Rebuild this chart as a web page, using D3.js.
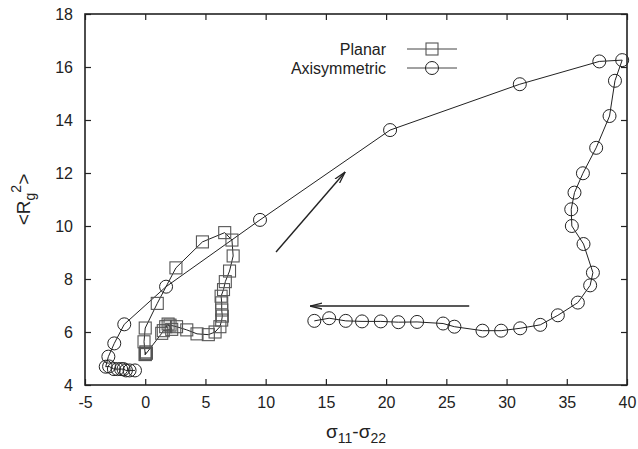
<!DOCTYPE html>
<html>
<head>
<meta charset="utf-8">
<script src="https://cdn.jsdelivr.net/npm/d3@7"></script>
<style>
  body { margin: 0; background: #fff; }
  svg text { font-family: "Liberation Sans", Arial, Helvetica, sans-serif; fill: #222; }
</style>
</head>
<body>
<div id="chart"></div>
<script>
const svgWidth = 638
const svgHeight = 449

let margin = { top: 14, right: 11, bottom: 64, left: 85 }
let width = svgWidth - margin.left - margin.right
let height = svgHeight - margin.top - margin.bottom

// data
const xTicks = [-5, 0, 5, 10, 15, 20, 25, 30, 35, 40]
const yTicks = [4, 6, 8, 10, 12, 14, 16, 18]

const planarX = [0.05, 0.0, -0.1, 0.0, 1.0, 2.55, 4.75, 6.6, 7.2, 7.3, 7.0, 6.65, 6.5, 6.3, 6.35, 6.35, 6.4, 6.35, 6.2, 5.8, 5.24, 4.3, 3.45, 2.6, 2.06, 1.7, 1.9, 2.2, 1.5, 1.37, 0.1, 0.0, 0.05]
const planarY = [5.2, 5.15, 5.63, 6.15, 7.08, 8.42, 9.4, 9.75, 9.47, 8.87, 8.3, 7.9, 7.6, 7.35, 7.1, 6.83, 6.6, 6.45, 6.2, 6.0, 5.9, 5.93, 6.08, 6.2, 6.26, 6.2, 6.3, 6.1, 6.05, 5.95, 5.2, 5.15, 5.25]

const axiX = [-0.85, -1.3, -1.6, -1.8, -2.0, -2.3, -2.6, -3.0, -3.28, -3.06, -2.57, -1.74, 1.73, 9.53, 20.33, 31.1, 37.7, 39.6, 39.0, 38.55, 37.44, 36.34, 35.64, 35.37, 35.42, 36.39, 37.17, 36.94, 35.92, 34.26, 32.8, 31.13, 29.55, 28.0, 25.67, 24.73, 22.57, 21.02, 19.56, 18.0, 16.65, 15.27, 14.04]
const axiY = [4.55, 4.55, 4.55, 4.6, 4.6, 4.6, 4.6, 4.7, 4.69, 5.07, 5.57, 6.29, 7.71, 10.23, 13.62, 15.35, 16.21, 16.26, 15.48, 14.15, 12.95, 11.99, 11.26, 10.63, 10.0, 9.32, 8.24, 7.76, 7.11, 6.63, 6.27, 6.14, 6.05, 6.05, 6.2, 6.32, 6.38, 6.37, 6.4, 6.4, 6.42, 6.52, 6.42]

const seriesNames = ["Planar", "Axisymmetric"]

// arrows [x1, y1, x2, y2] in data units, head at the second end
const arrowUp = [10.86, 9.02, 16.6, 12.04]
const arrowLeft = [26.9, 6.98, 13.69, 6.98]

let svg = d3.select("#chart")
  .append("svg")
  .attr("width", svgWidth)
  .attr("height", svgHeight)

svg.append("defs").append("marker")
  .attr("id", "head")
  .attr("viewBox", "0 0 12 8")
  .attr("refX", 12)
  .attr("refY", 4)
  .attr("markerWidth", 12)
  .attr("markerHeight", 8)
  .attr("markerUnits", "userSpaceOnUse")
  .attr("orient", "auto")
  .append("path")
  .attr("d", "M0,1 L12,4 L0,7")
  .attr("fill", "none")
  .attr("stroke", "#222")
  .attr("stroke-width", 1.3)

let chartGroup = svg.append("g")
  .attr("transform", `translate(${margin.left}, ${margin.top})`)

let x = d3.scaleLinear().domain([-5, 40]).range([0, width])
let y = d3.scaleLinear().domain([4, 18]).range([height, 0])

// axes: ticks pointing inwards, mirrored on top and right
let plain = d => String(d)
let bottomAxis = d3.axisBottom(x).tickValues(xTicks).tickSize(-6).tickPadding(12).tickFormat(plain)
let leftAxis = d3.axisLeft(y).tickValues(yTicks).tickSize(-6).tickPadding(12).tickFormat(plain)

chartGroup.append("g")
  .attr("transform", `translate(0, ${height})`)
  .call(bottomAxis)
  .call(g => g.select(".domain").remove())

chartGroup.append("g")
  .call(leftAxis)
  .call(g => g.select(".domain").remove())

chartGroup.append("g")
  .call(d3.axisTop(x).tickValues(xTicks).tickSize(-6).tickFormat(""))
  .call(g => g.select(".domain").remove())

chartGroup.append("g")
  .attr("transform", `translate(${width}, 0)`)
  .call(d3.axisRight(y).tickValues(yTicks).tickSize(-6).tickFormat(""))
  .call(g => g.select(".domain").remove())

chartGroup.selectAll(".tick line").attr("stroke", "#222").attr("stroke-width", 1.2)
chartGroup.selectAll(".tick text")
  .style("font-size", "16px")
  .attr("fill", "#222")

chartGroup.append("rect")
  .attr("width", width)
  .attr("height", height)
  .attr("fill", "none")
  .attr("stroke", "#222")
  .attr("stroke-width", 1.6)

let line = d3.line().x(d => x(d[0])).y(d => y(d[1]))

let planar = d3.zip(planarX, planarY)
let axi = d3.zip(axiX, axiY)

chartGroup.append("path")
  .datum(planar)
  .attr("d", line)
  .attr("fill", "none")
  .attr("stroke", "#222")
  .attr("stroke-width", 1)

chartGroup.append("path")
  .datum(axi)
  .attr("d", line)
  .attr("fill", "none")
  .attr("stroke", "#222")
  .attr("stroke-width", 1)

chartGroup.append("g")
  .selectAll("rect")
  .data(planar)
  .enter()
  .append("rect")
  .attr("x", d => x(d[0]) - 6)
  .attr("y", d => y(d[1]) - 6)
  .attr("width", 12)
  .attr("height", 12)
  .attr("fill", "none")
  .attr("stroke", "#555")
  .attr("stroke-width", 1.1)

chartGroup.append("g")
  .selectAll("circle")
  .data(axi)
  .enter()
  .append("circle")
  .attr("cx", d => x(d[0]))
  .attr("cy", d => y(d[1]))
  .attr("r", 6.5)
  .attr("fill", "none")
  .attr("stroke", "#222")
  .attr("stroke-width", 1)

// arrows
chartGroup.selectAll(".arrow")
  .data([arrowUp, arrowLeft])
  .enter()
  .append("line")
  .attr("class", "arrow")
  .attr("x1", d => x(d[0]))
  .attr("y1", d => y(d[1]))
  .attr("x2", d => x(d[2]))
  .attr("y2", d => y(d[3]))
  .attr("stroke", "#222")
  .attr("stroke-width", 1.4)
  .attr("marker-end", "url(#head)")

// legend
let legend = svg.append("g")
  .selectAll("g")
  .data(seriesNames)
  .enter()
  .append("g")
  .attr("transform", (d, i) => `translate(0, ${49 + i * 19})`)

legend.append("text")
  .attr("x", 386)
  .attr("y", 5.5)
  .attr("text-anchor", "end")
  .style("font-size", "16px")
  .text(d => d)

legend.append("line")
  .attr("x1", 407)
  .attr("x2", 457)
  .attr("stroke", "#444")
  .attr("stroke-width", 1)

legend.filter((d, i) => i === 0).append("rect")
  .attr("x", 426).attr("y", -6).attr("width", 12).attr("height", 12)
  .attr("fill", "none").attr("stroke", "#555").attr("stroke-width", 1.1)

legend.filter((d, i) => i === 1).append("circle")
  .attr("cx", 432).attr("r", 6.5)
  .attr("fill", "none").attr("stroke", "#222").attr("stroke-width", 1)

// axis titles
let xTitle = svg.append("text")
  .attr("x", margin.left + width / 2)
  .attr("y", 438)
  .attr("text-anchor", "middle")
  .style("font-size", "19px")
xTitle.append("tspan").text("σ")
xTitle.append("tspan").attr("dy", 5).style("font-size", "14px").text("11")
xTitle.append("tspan").attr("dy", -5).text("-σ")
xTitle.append("tspan").attr("dy", 5).style("font-size", "14px").text("22")

let yTitle = svg.append("text")
  .attr("transform", `translate(30, ${margin.top + height / 2}) rotate(-90)`)
  .attr("text-anchor", "middle")
  .style("font-size", "19px")
yTitle.append("tspan").text("<R")
yTitle.append("tspan").attr("dy", 5).style("font-size", "14px").text("g")
yTitle.append("tspan").attr("dy", -14).style("font-size", "14px").text("2")
yTitle.append("tspan").attr("dy", 9).text(">")
</script>
</body>
</html>
